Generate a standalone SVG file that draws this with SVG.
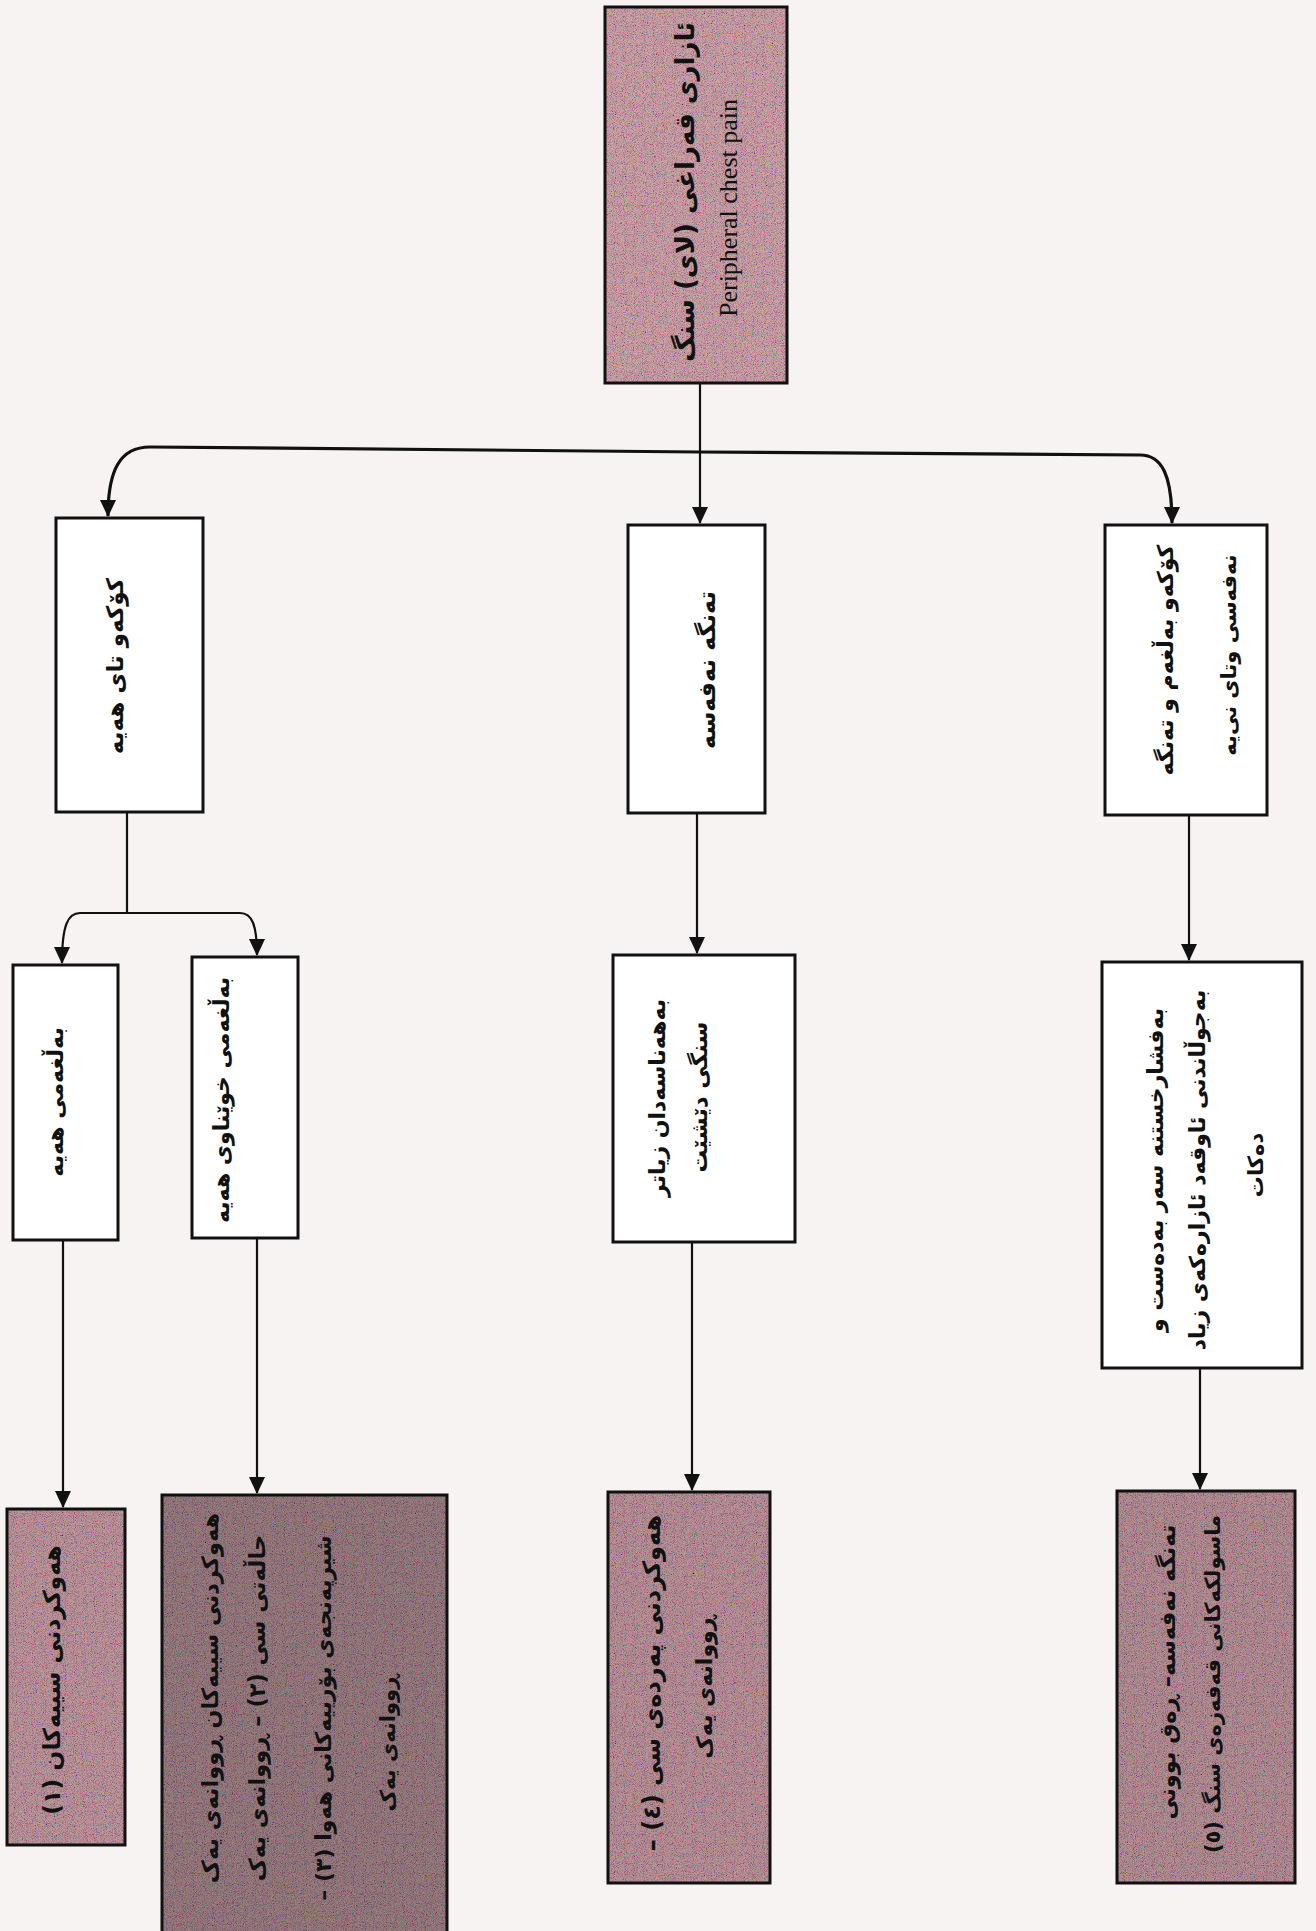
<svg xmlns="http://www.w3.org/2000/svg" width="1316" height="1931" viewBox="0 0 1316 1931">
<style>
.box{fill:#ffffff;stroke:#111;stroke-width:3}
.frame{fill:none;stroke:#111;stroke-width:3}
.t{font-family:"DejaVu Sans",sans-serif;font-weight:bold;font-size:23px;fill:#111;text-anchor:middle;dominant-baseline:central;direction:rtl}
.en{font-family:"Liberation Serif",serif;font-size:26px;fill:#111;text-anchor:middle;dominant-baseline:central}
.c{fill:none;stroke:#111;stroke-width:2.2}
.bar{fill:none;stroke:#111;stroke-width:3.2}
</style>
<defs>
<marker id="ah" markerUnits="userSpaceOnUse" markerWidth="18" markerHeight="20" refX="16" refY="8" orient="auto">
<path d="M0,0 L17,8 L0,16 Z" fill="#111"/>
</marker>
<filter id="grain" x="0" y="0" width="1" height="1">
<feTurbulence type="fractalNoise" baseFrequency="1.1" numOctaves="2" seed="7" result="noise"/>
<feColorMatrix in="noise" type="matrix" values="2.2 0 0 0 -0.25  0 2.2 0 0 -0.3  0 0 2.2 0 -0.25  0 0 0 0 1" result="cn"/>
<feBlend in="SourceGraphic" in2="cn" mode="multiply" result="b"/>
<feComposite in="b" in2="SourceGraphic" operator="in"/>
</filter>
</defs>
<rect x="0" y="0" width="1316" height="1931" fill="#f6f3f2"/>

<g id="connectors">
<path class="c" d="M700,383 V523" marker-end="url(#ah)"/>
<path class="bar" d="M700,452 L150,447 C120,447 108,470 108,516" marker-end="url(#ah)"/>
<path class="bar" d="M700,452 L1140,455 C1162,455 1172,475 1172,523" marker-end="url(#ah)"/>
<path class="c" d="M127,812 V913"/>
<path class="c" d="M127,913 H80 C68,913 62,925 62,963" marker-end="url(#ah)"/>
<path class="c" d="M127,913 H240 C252,913 257,925 257,955" marker-end="url(#ah)"/>
<path class="c" d="M697,813 V953" marker-end="url(#ah)"/>
<path class="c" d="M1189,815 V960" marker-end="url(#ah)"/>
<path class="c" d="M63,1240 V1507" marker-end="url(#ah)"/>
<path class="c" d="M257,1238 V1493" marker-end="url(#ah)"/>
<path class="c" d="M692,1242 V1490" marker-end="url(#ah)"/>
<path class="c" d="M1200,1368 V1489" marker-end="url(#ah)"/>
</g>

<g id="root">
<rect x="605" y="7" width="182" height="376" fill="#d2a9ae" filter="url(#grain)"/>
<rect class="frame" x="605" y="7" width="182" height="376"/>
<text class="t" style="font-size:26px" transform="translate(685,192) rotate(-90)">ئازاری قەراغی (لای) سنگ</text>
<text class="en" transform="translate(728,208) rotate(-90)">Peripheral chest pain</text>
</g>

<g id="n-cough-fever">
<rect class="box" x="56" y="518" width="147" height="294"/>
<text class="t" style="font-size:23px" transform="translate(115,666) rotate(-90)">کۆکەو تای هەیە</text>
</g>

<g id="n-dyspnea">
<rect class="box" x="628" y="525" width="137" height="288"/>
<text class="t" style="font-size:23.5px" transform="translate(707,670) rotate(-90)">تەنگە نەفەسە</text>
</g>

<g id="n-none">
<rect class="box" x="1105" y="525" width="162" height="290"/>
<text class="t" style="font-size:22px" transform="translate(1165,660) rotate(-90)">کۆکەو بەڵغەم و تەنگە</text>
<text class="t" style="font-size:21px" transform="translate(1229,655) rotate(-90)">نەفەسی وتای نی‌یە</text>
</g>

<g id="n-sputum">
<rect class="box" x="13" y="965" width="105" height="275"/>
<text class="t" style="font-size:22px" transform="translate(55,1102) rotate(-90)">بەڵغەمی هەیە</text>
</g>

<g id="n-blood-sputum">
<rect class="box" x="192" y="957" width="106" height="281"/>
<text class="t" style="font-size:22px" transform="translate(221,1100) rotate(-90)">بەڵغەمی خوێناوی هەیە</text>
</g>

<g id="n-breath">
<rect class="box" x="613" y="955" width="182" height="287"/>
<text class="t" style="font-size:22px" transform="translate(657,1098) rotate(-90)">بەهەناسەدان زیاتر</text>
<text class="t" style="font-size:22.5px" transform="translate(699,1097) rotate(-90)">سنگی دێشێت</text>
</g>

<g id="n-pressure">
<rect class="box" x="1102" y="962" width="200" height="406"/>
<text class="t" style="font-size:22px" transform="translate(1155,1170) rotate(-90)">بەفشارخستنە سەر بەدەست و</text>
<text class="t" style="font-size:22px" transform="translate(1197,1170) rotate(-90)">بەجوڵاندنی ئاوقەد ئازارەکەی زیاد</text>
<text class="t" style="font-size:21px" transform="translate(1256,1165) rotate(-90)">دەکات</text>
</g>

<g id="r-pneumonia">
<rect x="7" y="1509" width="118" height="336" fill="#c39ca2" filter="url(#grain)"/>
<rect class="frame" x="7" y="1509" width="118" height="336"/>
<text class="t" style="font-size:23.5px" transform="translate(52,1680) rotate(-90)">هەوکردنی سییەکان (١)</text>
</g>

<g id="r-tb-cancer">
<rect x="162" y="1495" width="285" height="440" fill="#9c8184" filter="url(#grain)"/>
<rect class="frame" x="162" y="1495" width="285" height="440"/>
<text class="t" style="font-size:22.5px" transform="translate(210,1698) rotate(-90)">هەوکردنی سییەکان ڕووانەی یەک</text>
<text class="t" style="font-size:22.5px" transform="translate(257,1708) rotate(-90)">حاڵەتی سی (٢) – ڕووانەی یەک</text>
<text class="t" style="font-size:22px" transform="translate(323,1718) rotate(-90)">شیرپەنجەی بۆرییەکانی هەوا (٣) –</text>
<text class="t" style="font-size:21px" transform="translate(388,1743) rotate(-90)">ڕووانەی یەک</text>
</g>

<g id="r-pleurisy">
<rect x="608" y="1492" width="162" height="391" fill="#bf989e" filter="url(#grain)"/>
<rect class="frame" x="608" y="1492" width="162" height="391"/>
<text class="t" style="font-size:24px" transform="translate(652,1683) rotate(-90)">هەوکردنی پەردەی سی (٤) –</text>
<text class="t" style="font-size:22px" transform="translate(704,1687) rotate(-90)">ڕووانەی یەک</text>
</g>

<g id="r-muscle">
<rect x="1117" y="1491" width="178" height="392" fill="#b9959a" filter="url(#grain)"/>
<rect class="frame" x="1117" y="1491" width="178" height="392"/>
<text class="t" style="font-size:22.5px" transform="translate(1167,1672) rotate(-90)">تەنگە نەفەسە– ڕەق بوونی</text>
<text class="t" style="font-size:21px" transform="translate(1213,1684) rotate(-90)">ماسولکەکانی قەفەزەی سنگ (٥)</text>
</g>
</svg>
